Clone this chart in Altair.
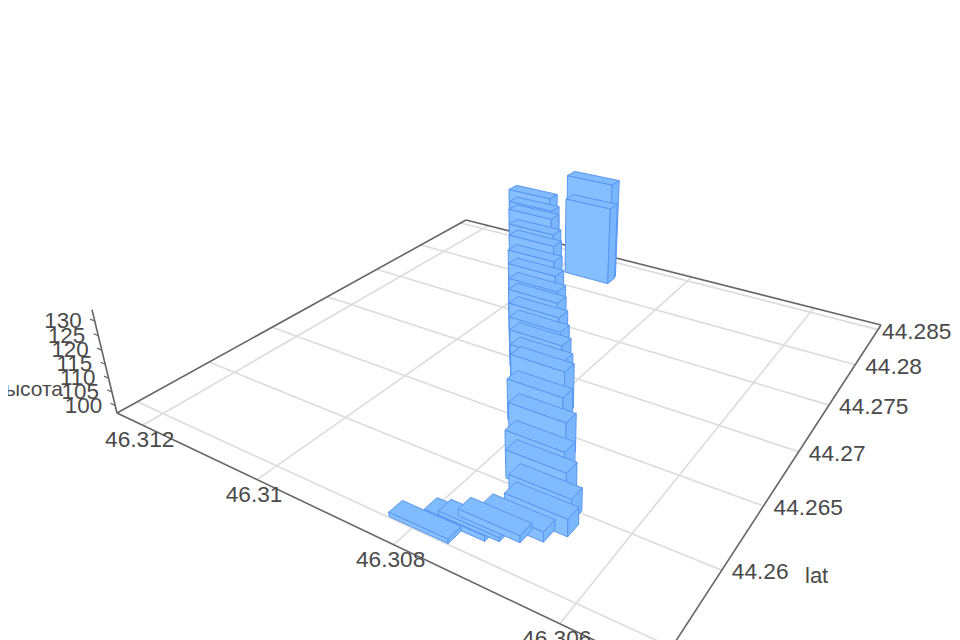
import altair as alt
import pandas as pd

lon_values = [46.30793, 46.30763, 46.30750, 46.30731, 46.30711, 46.30694, 46.30702, 46.30724, 46.30739,
              46.30762, 46.30787, 46.3081, 46.30822, 46.3084, 46.30856, 46.30874, 46.30893, 46.30907,
              46.3093, 46.30952, 46.30976, 46.30994, 46.31023, 46.31035, 46.3106, 46.30945, 46.30943]
lat_values = [44.25554, 44.25653, 44.25686, 44.2573, 44.25789, 44.25876, 44.25965, 44.26078, 44.26171,
              44.26349, 44.26498, 44.2668, 44.26754, 44.26866, 44.26963, 44.27076, 44.27195, 44.27289,
              44.27432, 44.27571, 44.27736, 44.27855, 44.28037, 44.28124, 44.28276, 44.28249, 44.28219]
height_values = [98.7, 99, 98.5, 99.5, 100.5, 103, 105, 107, 109, 110.5, 112, 113.5, 114, 115, 116, 117,
                 118, 119, 120, 121, 122, 123, 124, 125, 126, 138, 129]
lon_ticks = [46.312, 46.31, 46.308, 46.306]
lat_ticks = [44.255, 44.26, 44.265, 44.27, 44.275, 44.28, 44.285]
z_ticks = [100, 105, 110, 115, 120, 125, 130]
LON_MAX, LON_SPAN = 46.3125, 0.0075
LAT_MIN, LAT_SPAN = 44.2537, 0.032
Z_MIN, Z_SPAN = 97.2, 36.6
BAR_LON, BAR_LAT = 0.00079, 0.00098


def project(lon, lat, z):
    u = (LON_MAX - lon) / LON_SPAN
    v = (lat - LAT_MIN) / LAT_SPAN
    w = (z - Z_MIN) / Z_SPAN
    i = -0.0558
    den = -0.2997 * u + 0.463 * v + 1 + i * w
    x = (343.1 * u + 564.8 * v + 117 + i * w * 540) / den
    y = (56.2 * u - 91.1 * v + 413 + i * w * 2160) / den
    return x, y


def seg(a, b):
    (x, y), (x2, y2) = project(*a), project(*b)
    return {"x": x, "y": y, "x2": x2, "y2": y2}


LON_MIN = LON_MAX - LON_SPAN
LAT_MAX = LAT_MIN + LAT_SPAN
grid = [seg((t, LAT_MIN, Z_MIN), (t, LAT_MAX, Z_MIN)) for t in lon_ticks] + \
       [seg((LON_MIN, t, Z_MIN), (LON_MAX, t, Z_MIN)) for t in lat_ticks]
axes = [seg((LON_MAX, LAT_MIN, Z_MIN), (LON_MIN, LAT_MIN, Z_MIN)),
        seg((LON_MIN, LAT_MIN, Z_MIN), (LON_MIN, LAT_MAX, Z_MIN)),
        seg((LON_MIN, LAT_MAX, Z_MIN), (LON_MAX, LAT_MAX, Z_MIN)),
        seg((LON_MAX, LAT_MAX, Z_MIN), (LON_MAX, LAT_MIN, Z_MIN)),
        seg((LON_MAX, LAT_MIN, Z_MIN), (LON_MAX, LAT_MIN, Z_MIN + Z_SPAN))]
ticks = [seg((LON_MAX, LAT_MIN, t), (LON_MAX + 0.00009, LAT_MIN, t)) for t in z_ticks]

xs = alt.X("x:Q", scale=alt.Scale(domain=[8, 952]), axis=None)
ys = alt.Y("y:Q", scale=alt.Scale(domain=[640, 8]), axis=None)


def rules(rows, color, width):
    return alt.Chart(pd.DataFrame(rows)).mark_rule(color=color, strokeWidth=width).encode(
        x=xs, y=ys, x2="x2:Q", y2="y2:Q")


# bars: three visible faces of each box, farthest box first
polys = []
order = sorted(range(len(lon_values)),
               key=lambda k: -(0.2997 * (lon_values[k] - LON_MAX) / LON_SPAN
                               + 0.463 * (lat_values[k] - LAT_MIN) / LAT_SPAN))
pid = 0
for k in order:
    lo, la, zt = lon_values[k], lat_values[k], height_values[k]
    l0, l1 = lo + BAR_LON / 2, lo - BAR_LON / 2
    a0, a1 = la - BAR_LAT / 2, la + BAR_LAT / 2
    faces = [("#86bfff", [(l0, a0, Z_MIN), (l1, a0, Z_MIN), (l1, a0, zt), (l0, a0, zt)]),
             ("#7ab6fc", [(l1, a0, Z_MIN), (l1, a1, Z_MIN), (l1, a1, zt), (l1, a0, zt)]),
             ("#80baff", [(l0, a0, zt), (l1, a0, zt), (l1, a1, zt), (l0, a1, zt)])]
    for col, corners in faces:
        for n, corner in enumerate(corners + corners[:1]):
            x, y = project(*corner)
            polys.append({"x": x, "y": y, "poly": pid, "n": n, "col": col})
        pid += 1

bars = alt.Chart(pd.DataFrame(polys)).mark_line(
    stroke="#5896f0", strokeWidth=1, strokeJoin="round", fill="#86bfff", fillOpacity=1
).encode(x=xs, y=ys, detail="poly:N", order="n:Q", fill=alt.Fill("col:N", scale=None, legend=None))


def labels(rows, size=22.7, **kw):
    return alt.Chart(pd.DataFrame(rows)).mark_text(
        font="Liberation Sans", fontSize=size, color="#4a4a4a", **kw
    ).encode(x=xs, y=ys, text="t:N")


def lab(vals, fn):
    return [{"x": fn(t)[0], "y": fn(t)[1], "t": str(t)} for t in vals]


lat_pos = lambda t: project(LON_MIN, t, Z_MIN)
lon_lab = labels(lab(lon_ticks, lambda t: project(t, LAT_MIN, Z_MIN)), align="center", baseline="middle", dx=-3, dy=15)
lat_lab = labels(lab(lat_ticks[:-1], lat_pos), align="left", baseline="middle", dx=10, dy=2)
lat_last = labels(lab(lat_ticks[-1:], lat_pos), align="left", baseline="middle", dx=4, dy=2)
z_lab = labels(lab(z_ticks, lambda t: project(LON_MAX, LAT_MIN, t)), size=22.4, align="right", baseline="middle", dx=-13)
title_z = labels([{"x": 63, "y": 390, "t": "высота"}], size=21, align="right", baseline="middle")
title_lat = labels([{"x": 805, "y": 576, "t": "lat"}], size=22, align="left", baseline="middle")

chart = alt.layer(
    rules(grid, "#dcdcdc", 1.6), rules(axes, "#666666", 1.6), rules(ticks, "#666666", 1.2),
    bars, lon_lab, lat_lab, lat_last, z_lab, title_z, title_lat
).properties(width=944, height=632, padding=0, autosize=alt.AutoSizeParams(type="none")
).configure_view(stroke=None)

chart.save("out.html", embed_options={"renderer": "svg", "actions": False})
